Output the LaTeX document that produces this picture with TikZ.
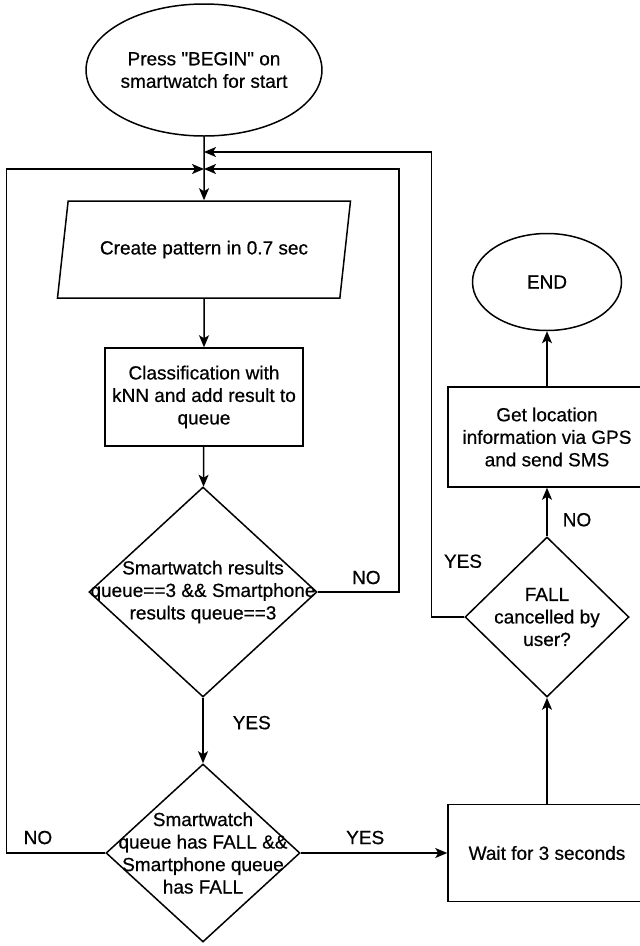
\documentclass[tikz,border=0pt]{standalone}
\usepackage{fontspec}
\setmainfont{Liberation Sans}[FakeBold=0.6]
\usetikzlibrary{shapes.geometric,arrows.meta}

\begin{document}
\begin{tikzpicture}[x=1pt, y=-1pt, line width=1.5pt,
    font=\fontsize{19}{22.5}\selectfont,
    flow/.style={-{Stealth[length=12pt,width=10pt,inset=3pt]}},
    terminal/.style={draw, ellipse, inner sep=0pt, align=center},
    process/.style={draw, rectangle, inner sep=0pt, align=center, minimum width=198},
    io/.style={draw, trapezium, trapezium left angle=59, trapezium right angle=121,
        trapezium stretches body, inner sep=0pt, minimum width=293, minimum height=97},
    decision/.style={draw, diamond, inner sep=0pt},
    lbl/.style={inner sep=0pt}]
    \useasboundingbox (0,0) rectangle (640,946);

    % Main column
    \node[terminal, minimum width=196, minimum height=132] (start) at (204,70) {Press \textquotedbl BEGIN\textquotedbl{} on\\smartwatch for start};
    \node[io] (create) at (204,249.5) {Create pattern in 0.7 sec};
    \node[process, minimum height=98] (classify) at (204,397) {Classification with\\kNN and add result to\\queue};
    \node[decision, minimum width=228, minimum height=210,
        label={[align=center]center:Smartwatch results\\queue==3 \&\& Smartphone\\results queue==3}] (check1) at (203,592) {};
    \node[decision, minimum width=194, minimum height=178,
        label={[align=center]center:Smartwatch\\queue has FALL \&\&\\Smartphone queue\\has FALL}] (check2) at (203,853) {};

    % Right column
    \node[process, minimum height=97] (wait) at (547,853) {Wait for 3 seconds};
    \node[decision, minimum width=164, minimum height=160,
        label={[align=center]center:FALL\\cancelled by\\user?}] (check3) at (547,617) {};
    \node[process, minimum height=100] (locate) at (547,437) {Get location\\information via GPS\\and send SMS};
    \node[terminal, minimum width=149, minimum height=97] (stop) at (547,282) {END};

    \coordinate (join) at (204,169);
    \coordinate (join2) at (204,152);

    \draw[flow] (start) -- (create);
    \draw[flow] (create) -- (classify);
    \draw[flow] (classify) -- (check1);
    \draw[flow] (check1) -- node[lbl, right=29, pos=0.38] {YES} (check2);
    \draw[flow] (check2) -- node[lbl, above=8, pos=0.44] {YES} (wait);
    \draw[flow] (wait) -- (check3);
    \draw[flow] (check3) -- node[lbl, right=15, pos=0.34] {NO} (locate);
    \draw[flow] (locate) -- (stop);

    % Loops back to the top
    \draw[flow] (check1.east) -- node[lbl, above=7, pos=0.6] {NO} ++(81,0) |- (join);
    \draw[flow] (check2.west) -- node[lbl, above=8, pos=0.68] {NO} ++(-99,0) |- (join);
    \draw[flow] (check3.west) -- ++(-33,0) |- node[lbl, right=12, pos=0.06] {YES} (join2);

\end{tikzpicture}
\end{document}
